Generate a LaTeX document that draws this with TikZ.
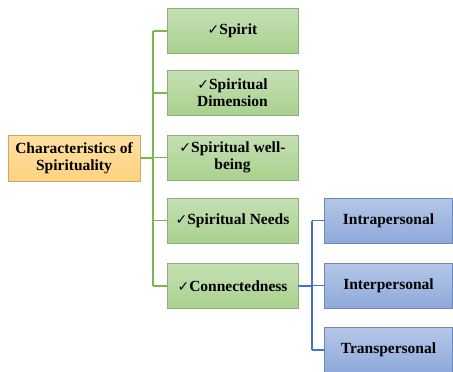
\documentclass[tikz,border=0pt]{standalone}
\usepackage{fontspec}
\setmainfont{Liberation Serif}
\newfontfamily\symfont{DejaVu Sans}
\definecolor{gline}{HTML}{77B84E}
\definecolor{gfill}{HTML}{A9D18E}
\definecolor{gtop}{HTML}{C5E0B4}
\definecolor{gborder}{HTML}{8FAF7A}
\definecolor{bline}{HTML}{4472C4}
\definecolor{bfill}{HTML}{8EA9DB}
\definecolor{btop}{HTML}{B4C7E7}
\definecolor{bborder}{HTML}{6F86B8}
\definecolor{ofill}{HTML}{FFD27F}
\definecolor{otop}{HTML}{FFE0A3}
\definecolor{oborder}{HTML}{C9A86B}
\newcommand{\ck}{{\symfont\bfseries\fontsize{14}{15}\selectfont ✓}}
\begin{document}
\begin{tikzpicture}[x=1pt,y=-1pt,
  box/.style={draw, line width=0.8pt, align=center, inner sep=2pt,
    font=\bfseries\fontsize{15.5}{17}\selectfont, text=black},
  gbox/.style={box, draw=gborder, top color=gtop, bottom color=gfill, minimum width=131pt, minimum height=45pt},
  bbox/.style={box, draw=bborder, top color=btop, bottom color=bfill, minimum width=128pt, minimum height=45pt},
  obox/.style={box, draw=oborder, top color=otop, bottom color=ofill, minimum width=132pt, minimum height=46pt},
  gconn/.style={draw=gline, line width=1.8pt},
  bconn/.style={draw=bline, line width=1.8pt}]
\useasboundingbox (0,0) rectangle (453,372);
\node[obox] (c) at (74,158) {Characteristics of\\Spirituality};
\node[gbox] (g1) at (232.5,31) {\ck Spirit};
\node[gbox] (g2) at (232.5,93) {\ck Spiritual\\Dimension};
\node[gbox] (g3) at (232.5,157.5) {\ck Spiritual well-\\being};
\node[gbox] (g4) at (232.5,220.5) {\ck Spiritual Needs};
\node[gbox] (g5) at (232.5,286) {\ck Connectedness};
\node[bbox] (b1) at (388.5,220.5) {Intrapersonal};
\node[bbox] (b2) at (388.5,285.5) {Interpersonal};
\node[bbox] (b3) at (388.5,350) {Transpersonal};
\coordinate (gt) at (153,31);
\coordinate (gb) at (153,286);
\coordinate (bt) at (312,220.5);
\coordinate (bb) at (312,350);
\draw[gconn] (gt) -- (gb);
\draw[gconn] (c.east) -- (c.east -| gt);
\foreach \n in {g1,g2,g3,g4,g5} \draw[gconn] (\n.west -| gt) -- (\n.west);
\draw[bconn] (bt) -- (bb);
\draw[bconn] (g5.east) -- (g5.east -| bt);
\foreach \n in {b1,b2,b3} \draw[bconn] (\n.west -| bt) -- (\n.west);
\end{tikzpicture}
\end{document}
